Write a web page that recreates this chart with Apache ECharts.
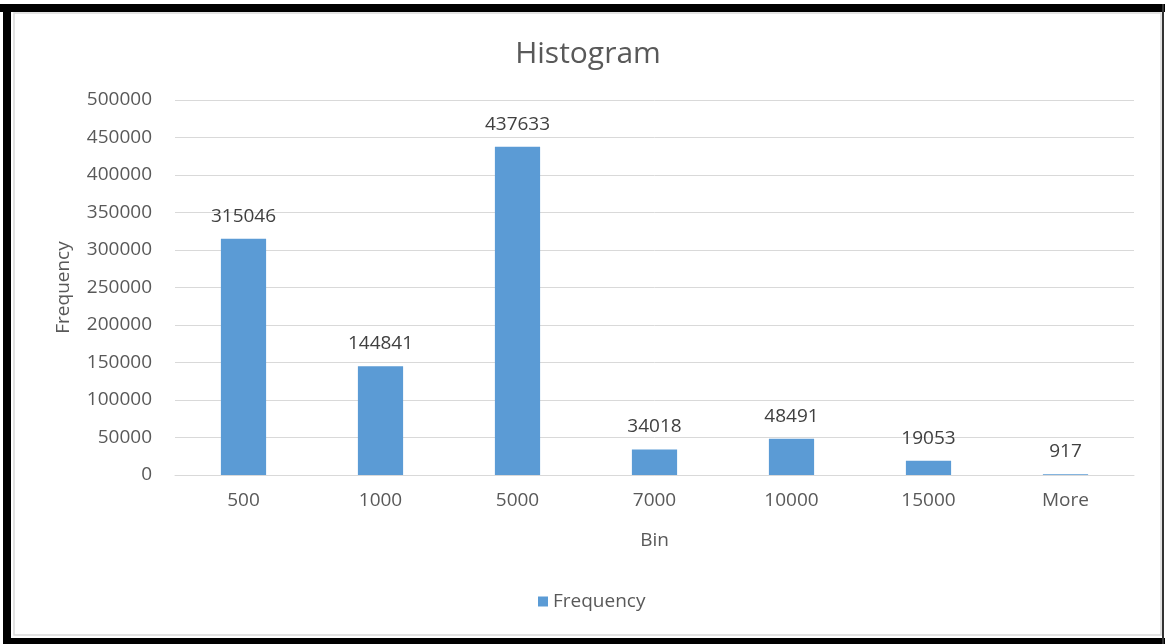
<!DOCTYPE html>
<html>
<head>
<meta charset="utf-8">
<script src="https://cdn.jsdelivr.net/npm/echarts@6/dist/echarts.min.js"></script>
<style>
  html, body { margin: 0; padding: 0; background: #fff; }
  #chart { width: 1165px; height: 644px; }
</style>
</head>
<body>
<div id="chart"></div>
<script>
const bins = ['500', '1000', '5000', '7000', '10000', '15000', 'More'];
const frequency = [315046, 144841, 437633, 34018, 48491, 19053, 917];

const textColor = '#595959';
const font = 'Open Sans';

const chart = echarts.init(document.getElementById('chart'));
chart.setOption({
  backgroundColor: '#fff',
  textStyle: { fontFamily: font },
  title: {
    text: 'Histogram',
    left: 583,
    textAlign: 'center',
    top: 34,
    textStyle: { fontSize: 30, fontWeight: 'normal', color: textColor, fontFamily: font }
  },
  grid: { left: 175, right: 31, top: 100, bottom: 169, containLabel: false },
  legend: {
    data: ['Frequency'],
    top: 587,
    left: 533,
    itemWidth: 10,
    itemHeight: 10,
    icon: 'rect',
    itemGap: 6,
    textStyle: { fontSize: 19, color: textColor, fontFamily: font }
  },
  xAxis: {
    type: 'category',
    data: bins,
    name: 'Bin',
    nameLocation: 'middle',
    nameGap: 56,
    nameTextStyle: { fontSize: 19, color: textColor },
    axisLine: { lineStyle: { color: '#d9d9d9', width: 1 } },
    axisTick: { show: false },
    axisLabel: { fontSize: 19, color: textColor, margin: 16 }
  },
  yAxis: {
    type: 'value',
    min: 0,
    max: 500000,
    interval: 50000,
    name: 'Frequency',
    nameLocation: 'middle',
    nameGap: 102,
    nameTextStyle: { fontSize: 19, color: textColor },
    axisLine: { show: false },
    axisTick: { show: false },
    axisLabel: { fontSize: 19, color: textColor, margin: 23, formatter: v => String(v) },
    splitLine: { lineStyle: { color: '#d9d9d9', width: 1 } }
  },
  series: [{
    name: 'Frequency',
    type: 'bar',
    data: frequency,
    barWidth: '33%',
    itemStyle: { color: '#5B9BD5' },
    label: {
      show: true,
      position: 'top',
      distance: 13,
      fontSize: 19,
      color: '#404040',
      fontFamily: font
    }
  }],
  graphic: [
    { type: 'rect', shape: { x: 14, y: 13, width: 1147, height: 622 }, style: { fill: 'none', stroke: '#d9d9d9', lineWidth: 1.5 }, silent: true },
    { type: 'rect', shape: { x: 0, y: 4, width: 1165, height: 8 }, style: { fill: '#000' }, silent: true },
    { type: 'rect', shape: { x: 3, y: 4, width: 8, height: 640 }, style: { fill: '#000' }, silent: true },
    { type: 'rect', shape: { x: 3, y: 638, width: 1162, height: 6 }, style: { fill: '#000' }, silent: true },
    { type: 'rect', shape: { x: 1162, y: 4, width: 2, height: 640 }, style: { fill: '#333' }, silent: true }
  ]
});
</script>
</body>
</html>
